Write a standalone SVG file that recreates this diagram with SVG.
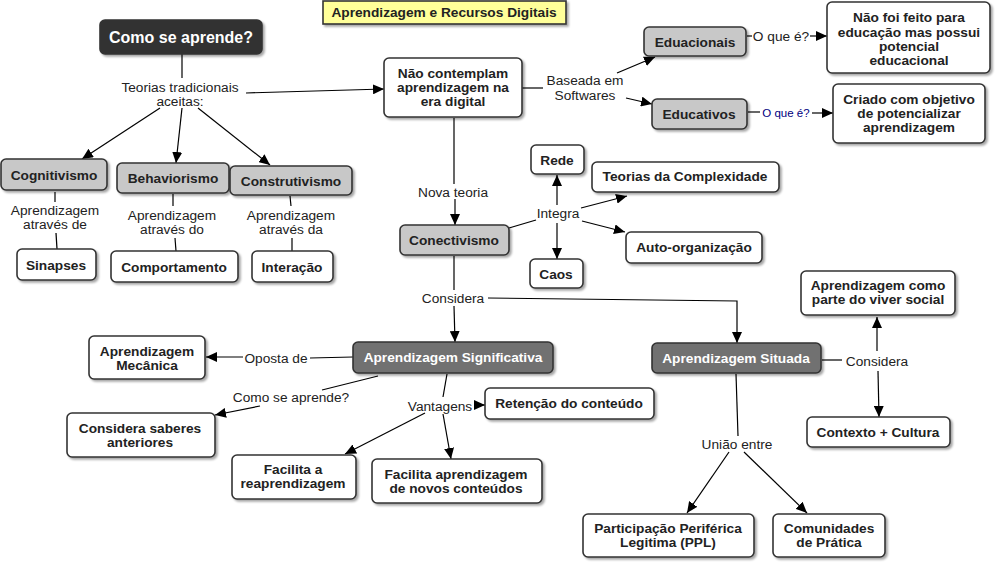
<svg xmlns="http://www.w3.org/2000/svg" width="997" height="564" viewBox="0 0 997 564">
<defs>
<filter id="sh" x="-10%" y="-10%" width="130%" height="140%">
<feDropShadow dx="2" dy="2" stdDeviation="1" flood-color="#000" flood-opacity="0.35"/>
</filter>
<marker id="ar" markerUnits="userSpaceOnUse" markerWidth="12" markerHeight="10" refX="11" refY="5" orient="auto">
<path d="M0,0 L11,5 L0,10 z" fill="#000"/>
</marker>
<style>
.b{stroke:#333;stroke-width:1.6;filter:url(#sh)}
.w{fill:#fff}
.g{fill:#c8c8c8}
.d{fill:#717171}
.k{fill:#333}
.t{font-family:"Liberation Sans",Arial,sans-serif;font-weight:bold;font-size:13.7px;fill:#222;text-anchor:middle}
.tw{fill:#fff}
.l{font-family:"Liberation Sans",Arial,sans-serif;font-size:13.7px;fill:#222;text-anchor:middle}
.c line,.c polyline{stroke:#000;stroke-width:1.2;fill:none}
.a{marker-end:url(#ar)}
</style>
</defs>
<rect width="997" height="564" fill="#fff"/>

<g class="c">
<line x1="182" y1="54" x2="182" y2="78"/>
<line class="a" x1="246" y1="93" x2="384" y2="89"/>
<line class="a" x1="160" y1="108" x2="82" y2="159"/>
<line class="a" x1="182" y1="108" x2="176" y2="163"/>
<line class="a" x1="198" y1="108" x2="270" y2="165"/>
<line x1="55" y1="192" x2="55" y2="202"/>
<line x1="56" y1="233" x2="57" y2="249"/>
<line x1="173" y1="194" x2="173" y2="206"/>
<line x1="175" y1="238" x2="176" y2="251"/>
<line x1="290" y1="196" x2="291" y2="206"/>
<line x1="292" y1="238" x2="292" y2="251"/>
<line x1="522" y1="88" x2="543" y2="88"/>
<line class="a" x1="617" y1="73" x2="655" y2="57"/>
<line class="a" x1="626" y1="98" x2="652" y2="104"/>
<line x1="747" y1="36" x2="752" y2="36"/>
<line class="a" x1="810" y1="36" x2="827" y2="36"/>
<line x1="748" y1="112" x2="760" y2="112"/>
<line class="a" x1="812" y1="113" x2="833" y2="113"/>
<line x1="454" y1="118" x2="454" y2="184"/>
<line class="a" x1="455" y1="199" x2="455" y2="225"/>
<line x1="509" y1="228" x2="536" y2="220"/>
<line class="a" x1="557" y1="205" x2="557" y2="175"/>
<line class="a" x1="557" y1="223" x2="557" y2="259"/>
<line class="a" x1="581" y1="208" x2="627" y2="196"/>
<line class="a" x1="582" y1="221" x2="625" y2="232"/>
<line x1="454" y1="256" x2="454" y2="290"/>
<line class="a" x1="454" y1="306" x2="455" y2="342"/>
<polyline class="a" points="488,298 737,301 737,343"/>
<line x1="353" y1="357" x2="310" y2="358"/>
<line class="a" x1="243" y1="357" x2="206" y2="357"/>
<line x1="378" y1="376" x2="322" y2="390"/>
<line class="a" x1="260" y1="406" x2="215" y2="415"/>
<line x1="447" y1="374" x2="443" y2="397"/>
<line class="a" x1="474" y1="405" x2="485" y2="405"/>
<line class="a" x1="425" y1="413" x2="345" y2="454"/>
<line class="a" x1="443" y1="414" x2="451" y2="459"/>
<line x1="822" y1="360" x2="842" y2="360"/>
<line class="a" x1="877" y1="351" x2="877" y2="317"/>
<line class="a" x1="878" y1="371" x2="879" y2="417"/>
<line x1="736" y1="374" x2="738" y2="436"/>
<line class="a" x1="729" y1="452" x2="687" y2="513"/>
<line class="a" x1="744" y1="452" x2="807" y2="513"/>
</g>

<g class="l">
<text x="180" y="92">Teorias tradicionais</text>
<text x="180" y="106">aceitas:</text>
<text x="55" y="215">Aprendizagem</text>
<text x="55" y="229">através de</text>
<text x="172" y="220">Aprendizagem</text>
<text x="172" y="234">através do</text>
<text x="291" y="220">Aprendizagem</text>
<text x="291" y="234">através da</text>
<text x="585" y="85">Baseada em</text>
<text x="585" y="100">Softwares</text>
<text x="781" y="41">O que é?</text>
<text x="786" y="117" style="font-size:11.5px;fill:#000080">O que é?</text>
<text x="453" y="197">Nova teoria</text>
<text x="558" y="218">Integra</text>
<text x="453" y="303">Considera</text>
<text x="276" y="363">Oposta de</text>
<text x="291" y="402">Como se aprende?</text>
<text x="440" y="411">Vantagens</text>
<text x="877" y="366">Considera</text>
<text x="737" y="449">União entre</text>
</g>

<g id="title"><rect class="b" x="323" y="1" width="243" height="23" fill="#ffff99" stroke-width="1.4"/><text class="t" x="444" y="17">Aprendizagem e Recursos Digitais</text></g>
<g id="como"><rect class="b k" x="100" y="20" width="162" height="34" rx="5"/><text class="t tw" x="181" y="43" style="font-size:16px">Como se aprende?</text></g>
<g id="cog"><rect class="b g" x="1" y="159" width="106" height="31" rx="5"/><text class="t" x="54" y="180">Cognitivismo</text></g>
<g id="beh"><rect class="b g" x="117" y="163" width="112" height="30" rx="5"/><text class="t" x="173" y="183">Behaviorismo</text></g>
<g id="con"><rect class="b g" x="230" y="166" width="122" height="29" rx="5"/><text class="t" x="291" y="186">Construtivismo</text></g>
<g id="sin"><rect class="b w" x="17" y="249" width="79" height="31" rx="5"/><text class="t" x="56" y="270">Sinapses</text></g>
<g id="comp"><rect class="b w" x="111" y="251" width="127" height="31" rx="5"/><text class="t" x="174" y="272">Comportamento</text></g>
<g id="int"><rect class="b w" x="252" y="251" width="81" height="31" rx="5"/><text class="t" x="292" y="272">Interação</text></g>
<g id="nao"><rect class="b w" x="384" y="58" width="138" height="59" rx="5"/><text class="t" x="453" y="78">Não contemplam</text><text class="t" x="453" y="92">aprendizagem na</text><text class="t" x="453" y="106">era digital</text></g>
<g id="edu1"><rect class="b g" x="644" y="27" width="102" height="29" rx="5"/><text class="t" x="695" y="47">Eduacionais</text></g>
<g id="edu2"><rect class="b g" x="652" y="99" width="95" height="30" rx="5"/><text class="t" x="699" y="119">Educativos</text></g>
<g id="naofoi"><rect class="b w" x="827" y="2" width="163" height="71" rx="5"/><text class="t" x="909" y="22">Não foi feito para</text><text class="t" x="909" y="37">educação mas possui</text><text class="t" x="909" y="51">potencial</text><text class="t" x="909" y="65">educacional</text></g>
<g id="criado"><rect class="b w" x="833" y="84" width="152" height="59" rx="5"/><text class="t" x="909" y="104">Criado com objetivo</text><text class="t" x="909" y="118">de potencializar</text><text class="t" x="909" y="132">aprendizagem</text></g>
<g id="conect"><rect class="b g" x="400" y="225" width="109" height="30" rx="5"/><text class="t" x="454" y="245">Conectivismo</text></g>
<g id="rede"><rect class="b w" x="531" y="145" width="53" height="29" rx="5"/><text class="t" x="557" y="165">Rede</text></g>
<g id="teor"><rect class="b w" x="592" y="162" width="187" height="30" rx="5"/><text class="t" x="685" y="181">Teorias da Complexidade</text></g>
<g id="auto"><rect class="b w" x="626" y="232" width="136" height="31" rx="5"/><text class="t" x="694" y="252">Auto-organização</text></g>
<g id="caos"><rect class="b w" x="530" y="259" width="53" height="29" rx="5"/><text class="t" x="556" y="279">Caos</text></g>
<g id="sig"><rect class="b d" x="353" y="342" width="200" height="31" rx="5"/><text class="t tw" x="453" y="362">Aprendizagem Significativa</text></g>
<g id="sit"><rect class="b d" x="652" y="343" width="169" height="30" rx="5"/><text class="t tw" x="736" y="363">Aprendizagem Situada</text></g>
<g id="mec"><rect class="b w" x="89" y="336" width="116" height="43" rx="5"/><text class="t" x="147" y="356">Aprendizagem</text><text class="t" x="147" y="370">Mecânica</text></g>
<g id="sab"><rect class="b w" x="67" y="413" width="148" height="44" rx="5"/><text class="t" x="140" y="433">Considera saberes</text><text class="t" x="140" y="447">anteriores</text></g>
<g id="ret"><rect class="b w" x="485" y="388" width="169" height="31" rx="5"/><text class="t" x="569" y="408">Retenção do conteúdo</text></g>
<g id="fac1"><rect class="b w" x="232" y="455" width="124" height="44" rx="5"/><text class="t" x="293" y="474">Facilita a</text><text class="t" x="293" y="488">reaprendizagem</text></g>
<g id="fac2"><rect class="b w" x="372" y="459" width="170" height="44" rx="5"/><text class="t" x="456" y="479">Facilita aprendizagem</text><text class="t" x="456" y="493">de novos conteúdos</text></g>
<g id="viver"><rect class="b w" x="801" y="271" width="154" height="44" rx="5"/><text class="t" x="878" y="290">Aprendizagem como</text><text class="t" x="878" y="304">parte do viver social</text></g>
<g id="ctx"><rect class="b w" x="807" y="417" width="143" height="30" rx="5"/><text class="t" x="878" y="437">Contexto + Cultura</text></g>
<g id="ppl"><rect class="b w" x="583" y="514" width="171" height="43" rx="5"/><text class="t" x="668" y="533">Participação Periférica</text><text class="t" x="668" y="547">Legitima (PPL)</text></g>
<g id="cp"><rect class="b w" x="773" y="514" width="112" height="43" rx="5"/><text class="t" x="829" y="533">Comunidades</text><text class="t" x="829" y="547">de Prática</text></g>
</svg>
